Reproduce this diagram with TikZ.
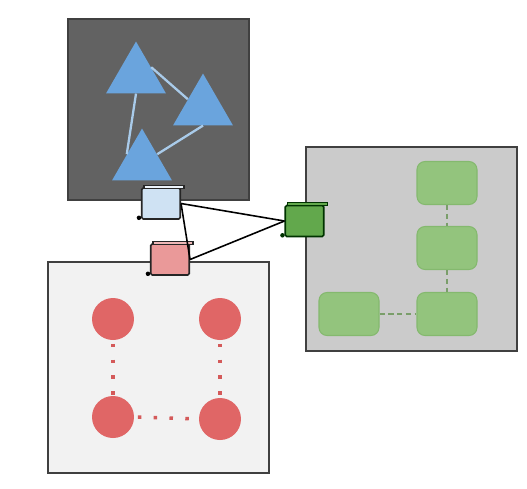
\documentclass[tikz,border=0pt]{standalone}
\usepackage{tikz}
\usetikzlibrary{shapes.geometric}
\definecolor{darkpanel}{HTML}{626262}
\definecolor{greypanel}{HTML}{CBCBCB}
\definecolor{lightpanel}{HTML}{F2F2F2}
\definecolor{triblue}{HTML}{6AA4DD}
\definecolor{trilink}{HTML}{A9CBEA}
\definecolor{dotred}{HTML}{E06666}
\definecolor{dotlink}{HTML}{D45A5A}
\definecolor{boxgreen}{HTML}{93C47D}
\definecolor{boxedge}{HTML}{84B96E}
\definecolor{boxlink}{HTML}{7A9E6A}
\definecolor{portblue}{HTML}{CFE2F3}
\definecolor{portred}{HTML}{EA9999}
\definecolor{portgreen}{HTML}{62A84C}

\begin{document}
\begin{tikzpicture}[x=0.02cm, y=-0.02cm,
  panel/.style={draw=black!75, line width=0.7pt, inner sep=0pt},
  tri/.style={regular polygon, regular polygon sides=3, minimum size=1.38cm, inner sep=0pt, fill=triblue},
  dot/.style={circle, minimum size=0.84cm, inner sep=0pt, fill=dotred},
  box/.style={rounded corners=0.16cm, minimum width=1.2cm, minimum height=0.86cm, inner sep=0pt, fill=boxgreen, draw=boxedge, line width=0.6pt},
  port/.style={draw=black!85, line width=0.9pt, rounded corners=0.8pt, minimum width=0.77cm, minimum height=0.62cm, inner sep=0pt}]
\useasboundingbox (0,0) rectangle (527,488);
% panels
\node[panel, fill=darkpanel, minimum width=3.62cm, minimum height=3.62cm] (dark) at (158.5,109.5) {};
\node[panel, fill=greypanel, minimum width=4.22cm, minimum height=4.08cm] (grey) at (411.5,249) {};
\node[panel, fill=lightpanel, minimum width=4.42cm, minimum height=4.22cm] (light) at (158.5,367.5) {};
% triangles
\node[tri] (t1) at (136,76) {};
\node[tri] (t2) at (203,108) {};
\node[tri] (t3) at (142,163) {};
\draw[trilink, line width=1.3pt] (t1.side 3) -- (t2.side 1);
\draw[trilink, line width=1.3pt] (t1.side 2) -- (t3.side 1);
\draw[trilink, line width=1.3pt] (t2.side 2) -- (t3.side 3);
% green boxes
\node[box] (g1) at (447,183) {};
\node[box] (g2) at (447,248) {};
\node[box] (g3) at (447,314) {};
\node[box] (g4) at (349,314) {};
\draw[boxlink, line width=0.6pt, dash pattern=on 3pt off 2pt] (g1.south) -- (g2.north);
\draw[boxlink, line width=0.6pt, dash pattern=on 3pt off 2pt] (g2.south) -- (g3.north);
\draw[boxlink, line width=0.6pt, dash pattern=on 3pt off 2pt] (g4.east) -- (g3.west);
% red circles
\node[dot] (c1) at (113,319) {};
\node[dot] (c2) at (220,319) {};
\node[dot] (c3) at (113,417) {};
\node[dot] (c4) at (220,419) {};
\draw[dotlink, line width=2pt, dash pattern=on 2pt off 7pt, dash phase=-2pt] (c1.south) -- (c3.north);
\draw[dotlink, line width=2pt, dash pattern=on 2pt off 7pt, dash phase=-2pt] (c2.south) -- (c4.north);
\draw[dotlink, line width=2pt, dash pattern=on 2pt off 7pt, dash phase=-2pt] (c3.east) -- (c4.west);
% ports
\node[port, fill=portblue] (pblue) at (161,203.5) {};
\node[port, fill=portred] (pred) at (170,259.5) {};
\node[port, fill=portgreen, draw=black!80!green] (pgreen) at (304.5,221) {};
\draw[black!85, line width=0.7pt, fill=white!60!portblue] ([shift={(3,-2)}]pblue.north west) rectangle ([shift={(3,1)}]pblue.north east);
\draw[black!85, line width=0.7pt, fill=white!30!portred] ([shift={(3,-2)}]pred.north west) rectangle ([shift={(3,1)}]pred.north east);
\draw[black!80!green, line width=0.7pt, fill=portgreen] ([shift={(3,-2)}]pgreen.north west) rectangle ([shift={(3,1)}]pgreen.north east);
\fill ([shift={(-2,-2)}]pblue.south west) circle (0.045cm);
\fill ([shift={(-2,-2)}]pred.south west) circle (0.045cm);
\fill[black!80!green] ([shift={(-2,-2)}]pgreen.south west) circle (0.045cm);
% links
\draw[line width=0.9pt] (pblue.east) -- (pgreen.west);
\draw[line width=0.9pt] (pblue.east) -- (pred.east);
\draw[line width=0.9pt] (pred.east) -- (pgreen.west);
\end{tikzpicture}
\end{document}
